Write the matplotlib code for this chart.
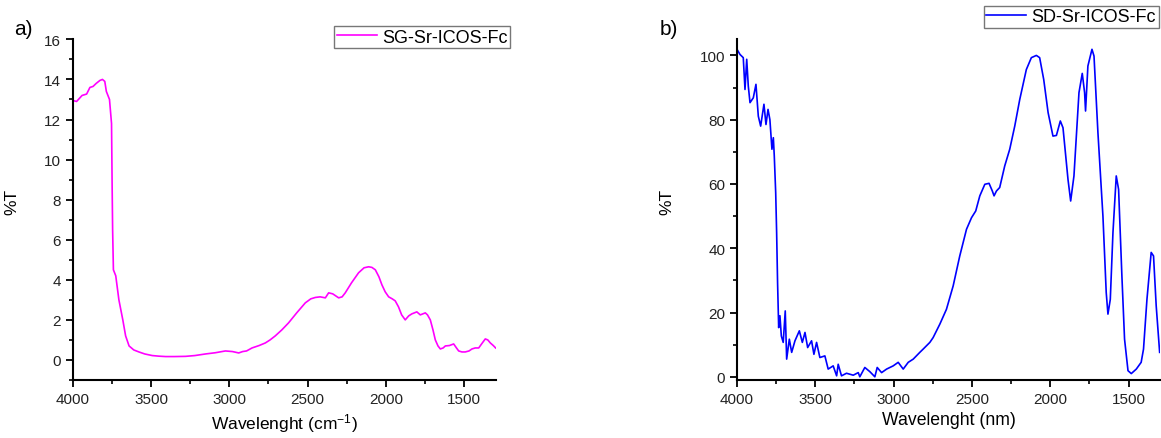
import matplotlib.pyplot as plt
from matplotlib.ticker import MultipleLocator

plt.rcParams['font.family'] = ['Liberation Sans', 'DejaVu Sans']
plt.rcParams['mathtext.fontset'] = 'custom'
plt.rcParams['mathtext.rm'] = 'Liberation Sans'
plt.rcParams['mathtext.it'] = 'Liberation Sans'

# panel a) SG-Sr-ICOS-Fc
sg_x = [4000, 3975, 3940, 3911, 3890, 3870, 3850, 3826, 3810, 3795, 3785, 3765,
        3752, 3748, 3745, 3740, 3725, 3705, 3680, 3662, 3640, 3610, 3577, 3540,
        3492, 3450, 3407, 3350, 3280, 3220, 3152, 3090, 3025, 2980, 2940, 2915,
        2890, 2855, 2810, 2770, 2740, 2707, 2665, 2622, 2570, 2515, 2480, 2451,
        2420, 2387, 2366, 2340, 2302, 2280, 2260, 2220, 2175, 2140, 2111, 2090,
        2068, 2045, 2026, 2005, 1983, 1960, 1941, 1920, 1900, 1877, 1855, 1835,
        1803, 1781, 1749, 1735, 1717, 1700, 1685, 1668, 1653, 1635, 1621, 1595,
        1568, 1550, 1536, 1515, 1494, 1470, 1451, 1430, 1408, 1385, 1366, 1350,
        1334, 1315, 1300]
sg_y = [12.95, 12.9, 13.2, 13.27, 13.6, 13.65, 13.8, 13.95, 14.0, 13.9, 13.4,
        13.0, 11.8, 8.6, 6.5, 4.5, 4.2, 3.0, 2.0, 1.2, 0.7, 0.5, 0.4, 0.3,
        0.22, 0.19, 0.17, 0.17, 0.18, 0.22, 0.3, 0.36, 0.45, 0.42, 0.35, 0.42,
        0.45, 0.6, 0.72, 0.85, 1.0, 1.2, 1.5, 1.85, 2.35, 2.85, 3.05, 3.12,
        3.15, 3.1, 3.35, 3.3, 3.1, 3.15, 3.35, 3.85, 4.35, 4.6, 4.65, 4.62,
        4.5, 4.15, 3.75, 3.4, 3.15, 3.05, 2.95, 2.65, 2.25, 2.0, 2.2, 2.3,
        2.4, 2.25, 2.35, 2.25, 2.0, 1.5, 1.0, 0.7, 0.55, 0.6, 0.7, 0.72,
        0.8, 0.6, 0.45, 0.4, 0.4, 0.45, 0.55, 0.6, 0.6, 0.85, 1.05, 1.0,
        0.85, 0.72, 0.6]

# panel b) SD-Sr-ICOS-Fc
sd_x = [4000, 3981, 3960, 3949, 3938, 3928, 3917, 3896, 3879, 3864, 3849, 3828,
        3815, 3802, 3790, 3777, 3768, 3762, 3753, 3747, 3741, 3734, 3726, 3717,
        3705, 3692, 3683, 3666, 3651, 3630, 3602, 3583, 3566, 3549, 3524, 3509,
        3492, 3471, 3439, 3418, 3386, 3364, 3354, 3333, 3301, 3258, 3226, 3216,
        3184, 3152, 3120, 3105, 3077, 3045, 3003, 2971, 2939, 2907, 2875, 2833,
        2812, 2769, 2748, 2705, 2663, 2620, 2578, 2535, 2503, 2476, 2450, 2418,
        2391, 2370, 2359, 2344, 2323, 2291, 2259, 2227, 2195, 2153, 2121, 2089,
        2068, 2042, 2014, 1983, 1961, 1936, 1919, 1887, 1870, 1849, 1817, 1796,
        1781, 1775, 1760, 1734, 1721, 1696, 1664, 1643, 1632, 1617, 1600, 1579,
        1564, 1543, 1526, 1504, 1483, 1451, 1420, 1405, 1383, 1356, 1341, 1324,
        1302]
sd_y = [101.9, 100.3, 99.3, 89.4, 98.8, 90.5, 85.3, 86.8, 91.0, 81.1, 78.0, 84.8,
        78.5, 83.2, 80.0, 70.8, 74.4, 68.7, 57.3, 44.9, 29.3, 15.3, 19.0, 12.7,
        10.7, 20.5, 5.5, 11.7, 7.6, 11.2, 14.3, 10.7, 13.8, 9.1, 11.2, 7.0,
        10.7, 6.0, 6.5, 2.4, 3.4, 0.3, 3.9, 0.3, 1.1, 0.5, 1.3, 0.0,
        2.9, 1.6, 0.0, 2.9, 1.3, 2.4, 3.4, 4.5, 2.4, 4.5, 5.5, 7.6,
        8.6, 10.7, 12.2, 16.4, 21.0, 28.3, 37.6, 45.9, 49.5, 51.6, 56.3, 59.9,
        60.2, 57.8, 56.3, 57.8, 58.9, 65.6, 70.8, 78.0, 86.3, 95.6, 99.3, 100.0,
        99.3, 92.5, 82.2, 74.9, 75.1, 79.6, 77.5, 61.4, 54.7, 62.5, 88.4, 94.4,
        88.4, 82.7, 96.7, 101.9, 99.8, 76.0, 50.0, 26.2, 19.5, 24.1, 44.9, 62.5,
        58.3, 31.4, 11.7, 1.9, 1.0, 2.4, 4.5, 8.6, 24.1, 38.7, 37.6, 22.1,
        7.6]

fig = plt.figure(figsize=(11.61, 4.39), dpi=100)
ax1 = fig.add_axes([0.0626, 0.1321, 0.3643, 0.776])
ax2 = fig.add_axes([0.6348, 0.1321, 0.3643, 0.776])

ax1.plot(sg_x, sg_y, color='#ff00ff', lw=1.2, label='SG-Sr-ICOS-Fc')
ax2.plot(sd_x, sd_y, color='#0000ff', lw=1.2, label='SD-Sr-ICOS-Fc')

ax1.set_xlim(4000, 1300)
ax1.set_ylim(-1, 16)
ax1.yaxis.set_major_locator(MultipleLocator(2))
ax1.yaxis.set_minor_locator(MultipleLocator(1))
ax1.set_xlabel('Wavelenght (cm$^{-1}$)', fontsize=12.5)

ax2.set_xlim(4000, 1300)
ax2.set_ylim(-1, 105)
ax2.yaxis.set_major_locator(MultipleLocator(20))
ax2.yaxis.set_minor_locator(MultipleLocator(10))
ax2.set_xlabel('Wavelenght (nm)', fontsize=12.7)

for ax in (ax1, ax2):
    ax.xaxis.set_major_locator(MultipleLocator(500))
    ax.xaxis.set_minor_locator(MultipleLocator(250))
    ax.spines['top'].set_visible(False)
    ax.spines['right'].set_visible(False)
    ax.spines['left'].set_linewidth(1.5)
    ax.spines['bottom'].set_linewidth(1.5)
    ax.tick_params(which='major', direction='out', length=5, width=1.3,
                   labelsize=11, labelcolor='#222222')
    ax.tick_params(which='minor', direction='out', length=3, width=1.2)
    ax.set_ylabel('%T', fontsize=12.5)

ax1.yaxis.set_label_coords(-0.125, 0.525)
ax2.yaxis.set_label_coords(-0.147, 0.525)

ax1.legend(loc='upper right', bbox_to_anchor=(0.4395, 0.9385),
           bbox_transform=fig.transFigure, fontsize=13, frameon=True,
           fancybox=False, edgecolor='#555555', handlelength=2.2,
           handletextpad=0.3, borderpad=0.15, borderaxespad=0)
ax2.legend(loc='upper right', bbox_to_anchor=(0.998, 0.985),
           bbox_transform=fig.transFigure, fontsize=13, frameon=True,
           fancybox=False, edgecolor='#555555', handlelength=2.2,
           handletextpad=0.3, borderpad=0.15, borderaxespad=0)

fig.text(0.012, 0.92, 'a)', fontsize=15)
fig.text(0.568, 0.92, 'b)', fontsize=15)

fig.savefig('out.png', dpi=100)
